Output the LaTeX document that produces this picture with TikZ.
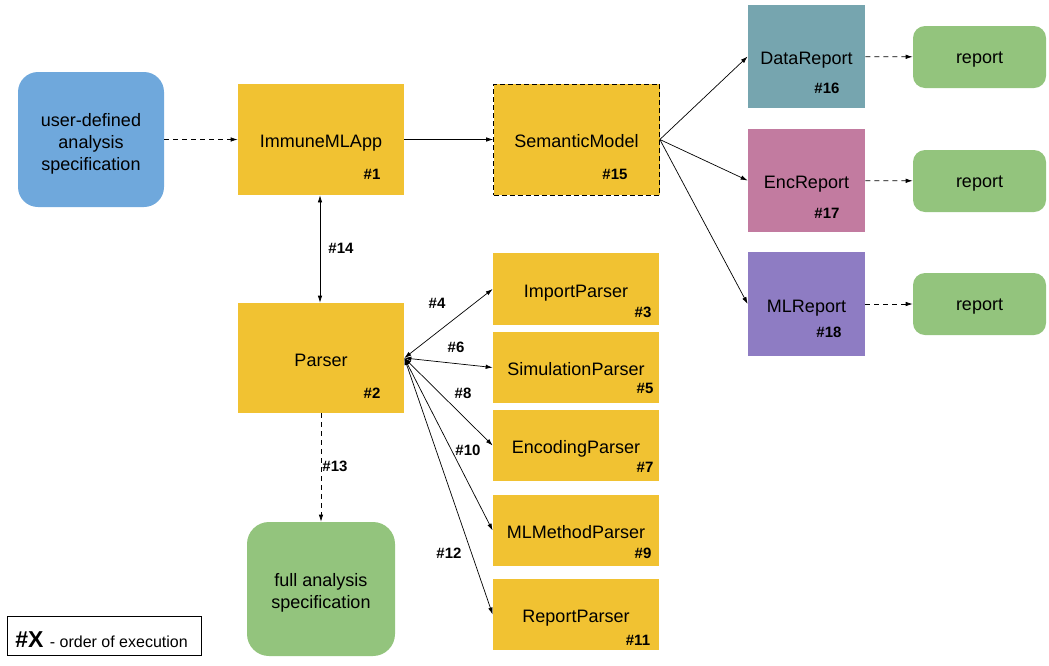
\documentclass[tikz,border=0pt]{standalone}
\usepackage{fontspec}
\setmainfont{Liberation Sans}
\usetikzlibrary{arrows.meta}
\definecolor{yell}{HTML}{F1C232}
\definecolor{blu}{HTML}{6FA8DC}
\definecolor{grn}{HTML}{93C47D}
\definecolor{teal2}{HTML}{76A5AF}
\definecolor{pink2}{HTML}{C27BA0}
\definecolor{purp}{HTML}{8E7CC3}
\begin{document}
\begin{tikzpicture}[x=1pt, y=-1pt,
    txt/.style={font=\fontsize{18}{22}\selectfont, align=center, inner sep=0pt},
    one/.style={txt, text height=17pt, text depth=1pt},
    ybox/.style={one, fill=yell, minimum width=166, minimum height=111},
    pbox/.style={one, fill=yell, minimum width=166, minimum height=71},
    rbox/.style={one, minimum width=117, minimum height=103},
    gbox/.style={txt, text height=14pt, text depth=2pt, fill=grn, rounded corners=12, minimum width=133, minimum height=62},
    num/.style={font=\fontsize{15}{17}\selectfont\bfseries, inner sep=0pt},
    >={Latex[length=7pt,width=4.5pt]}, line width=0.7pt]
    \useasboundingbox (0,0) rectangle (1049,665);

    % left column
    \node[txt, text height=65pt, fill=blu, rounded corners=20, minimum width=146, minimum height=135] (user) at (91,139.5) {user-defined\\analysis\\specification};
    \node[ybox] (app) at (321,139.5) {ImmuneMLApp};
    \node[num] (n1) at (372,174) {\#1};
    \node[ybox, minimum height=110] (parser) at (321,358) {Parser};
    \node[num] (n2) at (372,393) {\#2};
    \node[txt, text height=42pt, fill=grn, rounded corners=22, minimum width=148, minimum height=134] (full) at (321,589) {full analysis\\specification};
    \node[ybox, draw, dash pattern=on 5pt off 3pt] (sem) at (576.5,139.5) {SemanticModel};
    \node[num] (n15) at (615,174) {\#15};

    % parsers
    \node[pbox, minimum height=72] (imp) at (576,289) {ImportParser};
    \node[num] (n3) at (643,312) {\#3};
    \node[pbox] (sim) at (576,367.5) {SimulationParser};
    \node[num] (n5) at (645,388) {\#5};
    \node[pbox] (enc) at (576,445.5) {EncodingParser};
    \node[num] (n7) at (645,467) {\#7};
    \node[pbox] (mlm) at (576,530.5) {MLMethodParser};
    \node[num] (n9) at (643,553) {\#9};
    \node[pbox] (rep) at (576,614.5) {ReportParser};
    \node[num] (n11) at (638,640) {\#11};

    % reports
    \node[rbox, fill=teal2] (datar) at (806.5,56.5) {DataReport};
    \node[num] (n16) at (827,88) {\#16};
    \node[rbox, fill=pink2] (encr) at (806.5,180.5) {EncReport};
    \node[num] (n17) at (827,213) {\#17};
    \node[rbox, fill=purp, minimum height=104] (mlr) at (806.5,304) {MLReport};
    \node[num] (n18) at (829,332) {\#18};
    \node[gbox] (g1) at (979.5,57) {report};
    \node[gbox] (g2) at (979.5,181) {report};
    \node[gbox] (g3) at (979.5,304) {report};

    % legend
    \node[draw, line width=0.6pt, minimum width=194, minimum height=39, inner sep=0pt] (legend) at (104,635.5) {};
    \node[anchor=west, inner sep=0pt] (legtxt) at (15,640) {\fontsize{23}{26}\selectfont\bfseries\#X\ \fontsize{16}{18}\selectfont\mdseries - order of execution};

    % connectors
    \begin{scope}[dash pattern=on 5pt off 4pt]
      \draw[->] (user) -- (app);
      \draw[->] (parser) -- (full);
      \draw[->] (datar) -- (g1);
      \draw[->] (encr) -- (g2);
      \draw[->] (mlr) -- (g3);
    \end{scope}
    \draw[->] (app) -- (sem);
    \draw[<->] ([xshift=-1]app.south) -- ([xshift=-1]parser.north);
    \foreach \t in {imp,sim,enc,mlm,rep}{
      \draw[<->] (parser.east) -- (\t.west);
    }
    \foreach \t in {datar,encr,mlr}{
      \draw[->] (sem.east) -- (\t.west);
    }

    % order labels
    \node[num] (l14) at (341,248) {\#14};
    \node[num] (l13) at (335,466) {\#13};
    \node[num] (l4) at (437,303) {\#4};
    \node[num] (l6) at (456,347) {\#6};
    \node[num] (l8) at (463,393) {\#8};
    \node[num] (l10) at (468,450) {\#10};
    \node[num] (l12) at (449,553) {\#12};
\end{tikzpicture}
\end{document}
